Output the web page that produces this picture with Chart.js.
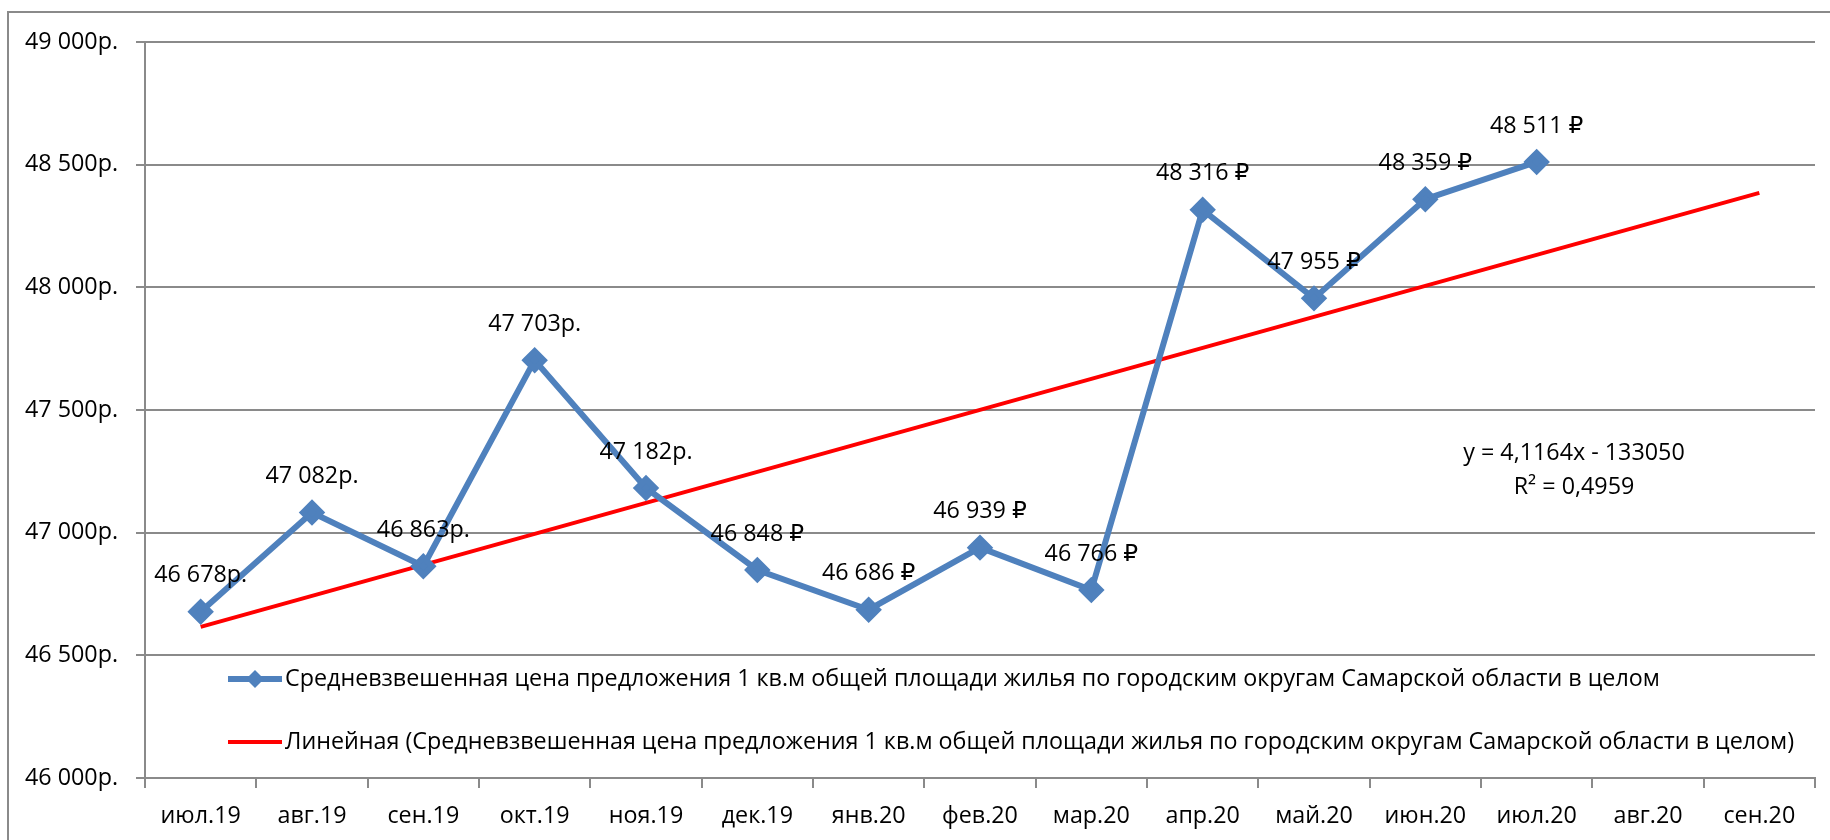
<!DOCTYPE html>
<html>
<head>
<meta charset="utf-8">
<script src="https://cdn.jsdelivr.net/npm/chart.js@4/dist/chart.umd.min.js"></script>
<style>
    html, body { margin: 0; padding: 0; background: #fff; }
    #wrap { width: 1830px; height: 840px; }
</style>
</head>
<body>
<div id="wrap"><canvas id="priceChart" width="1830" height="840"></canvas></div>
<script>
const months = ["июл.19", "авг.19", "сен.19", "окт.19", "ноя.19", "дек.19", "янв.20", "фев.20", "мар.20", "апр.20", "май.20", "июн.20", "июл.20", "авг.20", "сен.20"];
const prices = [46678, 47082, 46863, 47703, 47182, 46848, 46686, 46939, 46766, 48316, 47955, 48359, 48511, null, null];
const labelSuffix = ["р.", "р.", "р.", "р.", "р.", " ₽", " ₽", " ₽", " ₽", " ₽", " ₽", " ₽", " ₽"];
// линия тренда, концы
const trendMonths = ["июл.19", "сен.20"];
const trendValues = [46616, 48385];
const yTicks = [46000, 46500, 47000, 47500, 48000, 48500, 49000];
const seriesName = "Средневзвешенная цена предложения 1 кв.м общей площади жилья по городским округам Самарской области в целом";
const trendName = "Линейная (" + seriesName + ")";
const trendText = ["y = 4,1164x - 133050", "R² = 0,4959"];

const FONT = "'Open Sans', 'DejaVu Sans', sans-serif";
const BLUE = "#4F81BD";
const RED = "#FF0000";
const GRID = "#8a8a8a";

function fmt(v) {
    return String(v).replace(/\B(?=(\d{3})+(?!\d))/g, " ");
}

const extras = {
    id: "extras",
    beforeDraw(chart) {
        const c = chart.ctx;
        c.save();
        c.fillStyle = "#fff";
        c.fillRect(0, 0, chart.width, chart.height);
        c.strokeStyle = GRID;
        c.lineWidth = 2;
        c.strokeRect(8, 12, 1900, 900);
        c.restore();
    },
    afterDatasetsDraw(chart) {
        const c = chart.ctx;
        c.save();
        c.font = "23.3px " + FONT;
        c.fillStyle = "#000";
        c.textAlign = "center";
        c.textBaseline = "middle";

        // подписи значений
        const meta = chart.getDatasetMeta(0);
        meta.data.forEach((pt, i) => {
            if (prices[i] == null) return;
            c.fillText(fmt(prices[i]) + labelSuffix[i], pt.x, pt.y - 36);
        });

        // уравнение тренда
        c.fillText(trendText[0], 1574, 453);
        c.fillText(trendText[1], 1574, 487);

        // легенда внутри области построения
        const items = [
            { text: seriesName, color: BLUE, width: 6, marker: true, y: 679 },
            { text: trendName, color: RED, width: 4, marker: false, y: 742 }
        ];
        items.forEach(it => {
            c.strokeStyle = it.color;
            c.lineWidth = it.width;
            c.beginPath();
            c.moveTo(228, it.y);
            c.lineTo(282, it.y);
            c.stroke();
            if (it.marker) {
                c.fillStyle = it.color;
                c.beginPath();
                c.moveTo(255, it.y - 9);
                c.lineTo(264, it.y);
                c.lineTo(255, it.y + 9);
                c.lineTo(246, it.y);
                c.closePath();
                c.fill();
            }
            c.fillStyle = "#000";
            c.textAlign = "left";
            c.fillText(it.text, 285, it.y);
        });
        c.restore();
    }
};

new Chart(document.getElementById("priceChart").getContext("2d"), {
    type: "line",
    data: {
        labels: months,
        datasets: [
            {
                label: seriesName,
                data: prices,
                borderColor: BLUE,
                backgroundColor: BLUE,
                borderWidth: 6,
                pointStyle: "rectRot",
                pointRadius: 9,
                pointHoverRadius: 9,
                tension: 0,
                spanGaps: false
            },
            {
                label: trendName,
                data: trendMonths.map((m, i) => ({ x: m, y: trendValues[i] })),
                borderColor: RED,
                borderWidth: 4,
                pointRadius: 0,
                tension: 0
            }
        ]
    },
    options: {
        responsive: false,
        animation: false,
        layout: { padding: { left: 0, top: 42, right: 8, bottom: 0 } },
        plugins: {
            legend: { display: false },
            tooltip: { enabled: false }
        },
        scales: {
            x: {
                offset: true,
                grid: { display: true, drawOnChartArea: false, offset: true, color: GRID, lineWidth: 2, tickLength: 10 },
                border: { color: GRID, width: 2 },
                ticks: { color: "#000", font: { family: FONT, size: 23.3 }, padding: 14, maxRotation: 0, autoSkip: false },
                afterFit(scale) { scale.height = 62; }
            },
            y: {
                min: 46000,
                max: 49000,
                afterBuildTicks(scale) { scale.ticks = yTicks.map(v => ({ value: v })); },
                grid: { color: GRID, lineWidth: 2, tickLength: 9 },
                border: { color: GRID, width: 2 },
                ticks: {
                    color: "#000",
                    font: { family: FONT, size: 23.3 },
                    padding: 18,
                    callback: v => fmt(v) + "р."
                },
                afterFit(scale) { scale.width = 145; }
            }
        }
    },
    plugins: [extras]
});
</script>
</body>
</html>
